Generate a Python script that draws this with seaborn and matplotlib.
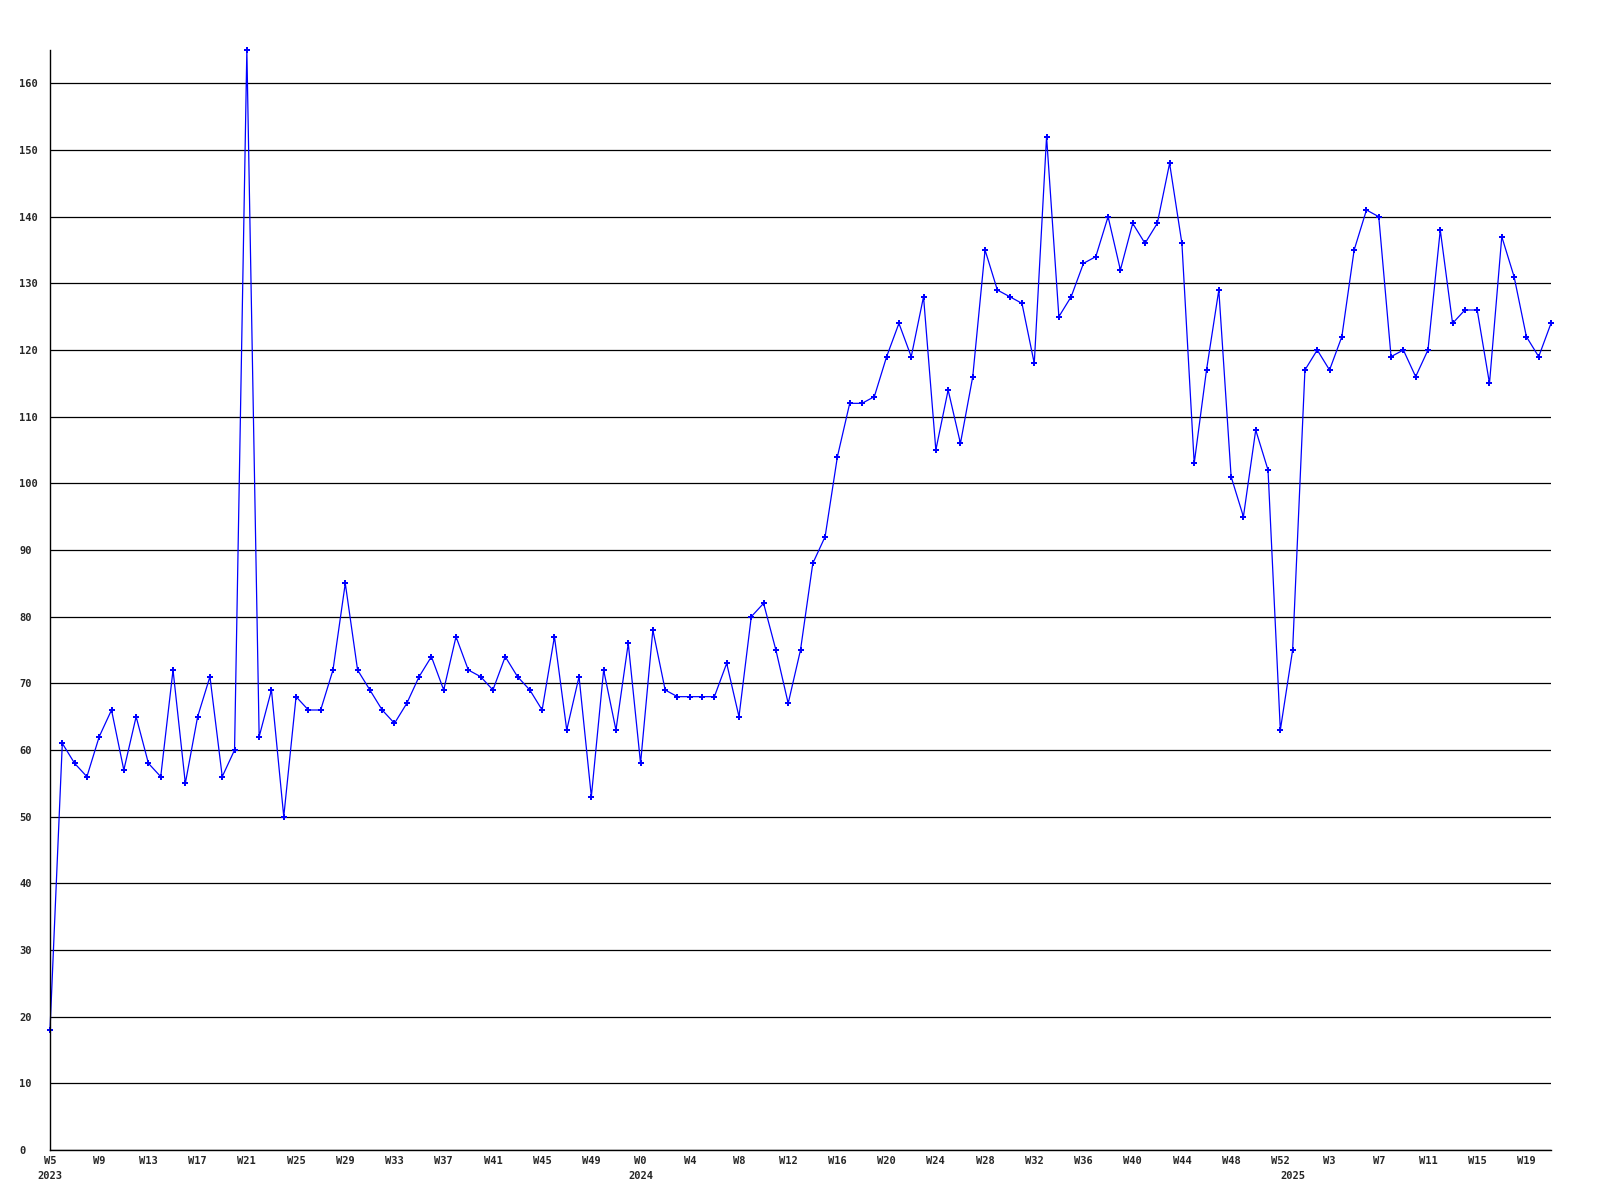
import numpy as np
import pandas as pd
import seaborn as sns
import matplotlib.pyplot as plt

# Weekly counts, 2023 W5 .. 2025 W21
counts = [
    18, 61, 58, 56, 62, 66, 57, 65, 58, 56, 72, 55, 65, 71, 56, 60,
    165, 62, 69, 50, 68, 66, 66, 72, 85, 72, 69, 66, 64, 67, 71, 74,
    69, 77, 72, 71, 69, 74, 71, 69, 66, 77, 63, 71, 53, 72, 63, 76,
    58, 78, 69, 68, 68, 68, 68, 73, 65, 80, 82, 75, 67, 75, 88, 92,
    104, 112, 112, 113, 119, 124, 119, 128, 105, 114, 106, 116, 135, 129, 128, 127,
    118, 152, 125, 128, 133, 134, 140, 132, 139, 136, 139, 148, 136, 103, 117, 129,
    101, 95, 108, 102, 63, 75, 117, 120, 117, 122, 135, 141, 140, 119, 120, 116,
    120, 138, 124, 126, 126, 115, 137, 131, 122, 119, 124,
]
week_labels = (
    [f"W{w}" for w in range(5, 53)]
    + [f"W{w}" for w in range(0, 53)]
    + [f"W{w}" for w in range(0, 22)]
)
year_starts = {"2023": 0, "2024": 48, "2025": 101}

df = pd.DataFrame({"idx": np.arange(len(counts)), "count": counts})

sns.set_style("white")
plt.rcParams["font.family"] = ["DejaVu Sans Mono"]
plt.rcParams["font.weight"] = "bold"

fig = plt.figure(figsize=(16, 12), dpi=100)
ax = fig.add_axes([50 / 1600, 50 / 1200, 1501 / 1600, 1100 / 1200])

sns.lineplot(
    data=df, x="idx", y="count", ax=ax, color="#0000ff", linewidth=0.9,
    marker="P", markersize=4.5, markeredgewidth=0, markerfacecolor="#0000ff",
)
for line in ax.lines:
    line.set_clip_on(False)

ax.set_xlim(0, len(counts) - 1)
ax.set_ylim(0, 165)
ax.set_yticks(range(0, 161, 10))
ax.set_xticks(range(0, len(counts), 4))
ax.set_xticklabels(week_labels[::4])
ax.yaxis.grid(True, color="black", linewidth=0.9)
ax.set_axisbelow(True)
ax.tick_params(axis="x", length=0, pad=4, labelsize=7.5)
ax.tick_params(axis="y", length=0, pad=22, labelsize=7.5)
for lbl in ax.get_yticklabels():
    lbl.set_horizontalalignment("left")
ax.set_xlabel("")
ax.set_ylabel("")
for side in ["top", "right"]:
    ax.spines[side].set_visible(False)
for side in ["left", "bottom"]:
    ax.spines[side].set_color("black")
    ax.spines[side].set_linewidth(1.0)

for year, pos in year_starts.items():
    ax.text(pos, -0.0236, year, transform=ax.get_xaxis_transform(),
            ha="center", va="center", fontsize=7.5, fontweight="bold")

fig.savefig("out.png", dpi=100)
